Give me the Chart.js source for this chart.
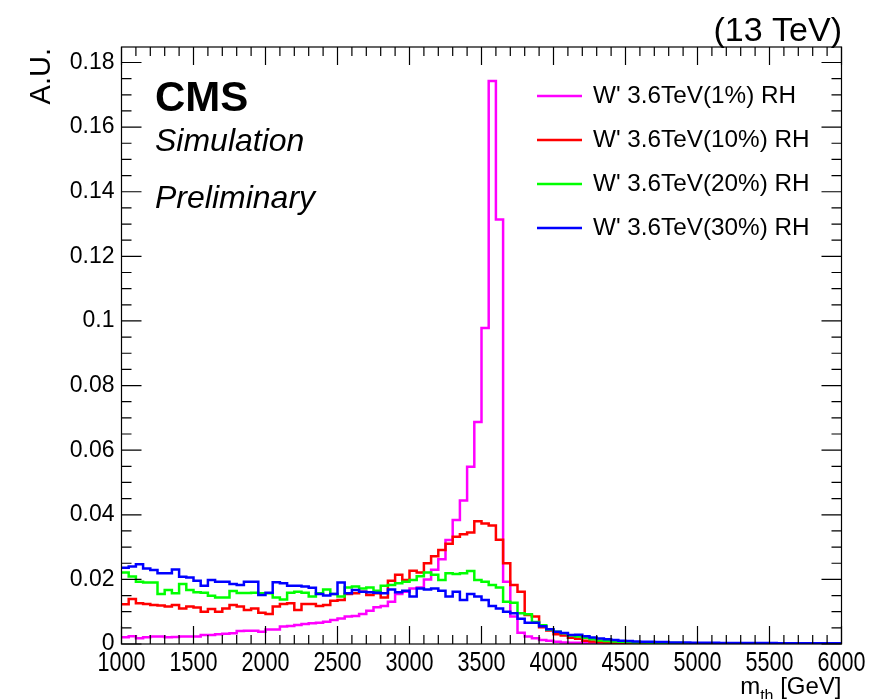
<!DOCTYPE html>
<html>
<head>
<meta charset="utf-8">
<script src="https://cdn.jsdelivr.net/npm/chart.js@4.4.1/dist/chart.umd.min.js"></script>
<style>
  html, body { margin: 0; padding: 0; background: #fff; }
  #c { display: block; }
</style>
</head>
<body>
<canvas id="c" width="870" height="699"></canvas>
<script>
// binning: 100 bins of 50 GeV from 1000 to 6000
const BIN_START = 1000;
const BIN_WIDTH = 50;
const X_MIN = 1000, X_MAX = 6000;
const Y_MIN = 0, Y_MAX = 0.1848;
const X_TICKS = [1000, 1500, 2000, 2500, 3000, 3500, 4000, 4500, 5000, 5500, 6000];
const Y_TICKS = [0, 0.02, 0.04, 0.06, 0.08, 0.1, 0.12, 0.14, 0.16, 0.18];

const LABELS = ["W' 3.6TeV(1%) RH", "W' 3.6TeV(10%) RH", "W' 3.6TeV(20%) RH", "W' 3.6TeV(30%) RH"];
const COLORS = ['#ff00ff', '#ff0000', '#00ff00', '#0000ff'];

// bin contents (A.U.)
const w1 = [
  0.0021, 0.0024, 0.0018, 0.0021, 0.0023, 0.0023, 0.0021, 0.0022, 0.0023, 0.0023,
  0.0023, 0.0028, 0.0028, 0.0030, 0.0032, 0.0033, 0.0040, 0.0041, 0.0041, 0.0038,
  0.0045, 0.0045, 0.0054, 0.0056, 0.0059, 0.0062, 0.0064, 0.0066, 0.0069, 0.0074,
  0.0079, 0.0085, 0.0087, 0.0093, 0.0103, 0.0114, 0.0118, 0.0131, 0.0155, 0.0162,
  0.0172, 0.0175, 0.0200, 0.0230, 0.0262, 0.0322, 0.0384, 0.0444, 0.0549, 0.0687,
  0.0978, 0.1743, 0.1314, 0.0193, 0.0085, 0.0035, 0.0023, 0.0018, 0.0012, 0.0010,
  0.0007, 0.0005, 0.0004, 0.0004, 0.0003, 0.0003, 0.0002, 0.0002, 0.0002, 0.0001,
  0.0001, 0.0001, 0.0001, 0.0001, 0.0001, 0.0001, 0.0001, 0.0001, 0.0001, 0.0001,
  0.0001, 0.0001, 0.0001, 0.0001, 0.0001, 0.0001, 0.0001, 0.0001, 0.0001, 0.0001,
  0.0001, 0.0001, 0.0001, 0.0001, 0.0001, 0.0001, 0.0001, 0.0001, 0.0001, 0.0001
];
const w10 = [
  0.0123, 0.0139, 0.0126, 0.0124, 0.0121, 0.0119, 0.0116, 0.0121, 0.0110, 0.0116,
  0.0113, 0.0100, 0.0108, 0.0100, 0.0110, 0.0121, 0.0116, 0.0105, 0.0110, 0.0097,
  0.0093, 0.0116, 0.0124, 0.0126, 0.0105, 0.0124, 0.0124, 0.0118, 0.0121, 0.0134,
  0.0136, 0.0155, 0.0157, 0.0162, 0.0152, 0.0157, 0.0144, 0.0196, 0.0214, 0.0198,
  0.0227, 0.0221, 0.0250, 0.0272, 0.0291, 0.0310, 0.0332, 0.0340, 0.0345, 0.0380,
  0.0373, 0.0367, 0.0323, 0.0250, 0.0183, 0.0162, 0.0090, 0.0085, 0.0052, 0.0042,
  0.0030, 0.0026, 0.0019, 0.0016, 0.0010, 0.0008, 0.0006, 0.0005, 0.0004, 0.0003,
  0.0003, 0.0002, 0.0002, 0.0002, 0.0001, 0.0001, 0.0001, 0.0001, 0.0001, 0.0001,
  0.0001, 0.0001, 0.0001, 0.0001, 0.0001, 0.0001, 0.0001, 0.0001, 0.0001, 0.0001,
  0.0001, 0.0001, 0.0001, 0.0001, 0.0001, 0.0001, 0.0001, 0.0001, 0.0001, 0.0001
];
const w20 = [
  0.0221, 0.0209, 0.0193, 0.0190, 0.0190, 0.0155, 0.0167, 0.0157, 0.0186, 0.0167,
  0.0160, 0.0159, 0.0149, 0.0144, 0.0144, 0.0164, 0.0158, 0.0158, 0.0159, 0.0157,
  0.0157, 0.0144, 0.0138, 0.0159, 0.0162, 0.0159, 0.0147, 0.0157, 0.0169, 0.0155,
  0.0147, 0.0175, 0.0178, 0.0172, 0.0175, 0.0165, 0.0180, 0.0183, 0.0188, 0.0193,
  0.0198, 0.0210, 0.0221, 0.0214, 0.0198, 0.0219, 0.0217, 0.0219, 0.0226, 0.0198,
  0.0193, 0.0183, 0.0175, 0.0131, 0.0128, 0.0095, 0.0092, 0.0068, 0.0058, 0.0044,
  0.0038, 0.0033, 0.0026, 0.0023, 0.0019, 0.0015, 0.0011, 0.0009, 0.0008, 0.0007,
  0.0006, 0.0005, 0.0005, 0.0004, 0.0004, 0.0003, 0.0003, 0.0003, 0.0002, 0.0002,
  0.0002, 0.0002, 0.0002, 0.0002, 0.0001, 0.0001, 0.0001, 0.0001, 0.0001, 0.0001,
  0.0001, 0.0001, 0.0001, 0.0001, 0.0001, 0.0001, 0.0001, 0.0001, 0.0001, 0.0001
];
const w30 = [
  0.0236, 0.0240, 0.0247, 0.0234, 0.0229, 0.0219, 0.0219, 0.0231, 0.0208, 0.0206,
  0.0196, 0.0180, 0.0198, 0.0193, 0.0193, 0.0186, 0.0183, 0.0193, 0.0193, 0.0152,
  0.0159, 0.0191, 0.0188, 0.0180, 0.0180, 0.0178, 0.0174, 0.0155, 0.0150, 0.0155,
  0.0190, 0.0157, 0.0167, 0.0162, 0.0160, 0.0159, 0.0157, 0.0169, 0.0160, 0.0165,
  0.0147, 0.0172, 0.0169, 0.0172, 0.0165, 0.0147, 0.0162, 0.0136, 0.0155, 0.0147,
  0.0136, 0.0118, 0.0110, 0.0100, 0.0095, 0.0078, 0.0066, 0.0066, 0.0055, 0.0046,
  0.0038, 0.0034, 0.0028, 0.0029, 0.0024, 0.0020, 0.0017, 0.0015, 0.0012, 0.0010,
  0.0009, 0.0008, 0.0007, 0.0007, 0.0006, 0.0006, 0.0005, 0.0005, 0.0005, 0.0004,
  0.0004, 0.0004, 0.0004, 0.0003, 0.0003, 0.0003, 0.0003, 0.0003, 0.0003, 0.0003,
  0.0003, 0.0002, 0.0002, 0.0002, 0.0002, 0.0002, 0.0002, 0.0002, 0.0002, 0.0002
];
const SERIES = [w1, w10, w20, w30];

// histogram -> step points at the low edge of each bin, plus closing point
function toSteps(vals) {
  const pts = vals.map((v, i) => ({ x: BIN_START + i * BIN_WIDTH, y: v }));
  pts.push({ x: BIN_START + vals.length * BIN_WIDTH, y: vals[vals.length - 1] });
  return pts;
}

const FONT = '"Liberation Sans", Arial, Helvetica, sans-serif';

// frame, inward ticks, x labels, texts and legend (ROOT style)
const rootStyle = {
  id: 'rootStyle',
  afterDraw(chart) {
    const ctx = chart.ctx;
    const a = chart.chartArea;
    const xs = chart.scales.x, ys = chart.scales.y;
    ctx.save();
    ctx.strokeStyle = '#000';
    ctx.lineWidth = 1.2;
    ctx.strokeRect(a.left, a.top, a.right - a.left, a.bottom - a.top);

    ctx.beginPath();
    for (let v = X_MIN; v <= X_MAX + 1e-6; v += 100) {
      const px = xs.getPixelForValue(v);
      const len = (v % 500 === 0) ? 18 : 9;
      ctx.moveTo(px, a.bottom); ctx.lineTo(px, a.bottom - len);
      ctx.moveTo(px, a.top); ctx.lineTo(px, a.top + len);
    }
    for (let i = 0; i * 0.005 <= Y_MAX + 1e-9; i++) {
      const py = ys.getPixelForValue(i * 0.005);
      const len = (i % 4 === 0) ? 20 : 10;
      ctx.moveTo(a.left, py); ctx.lineTo(a.left + len, py);
      ctx.moveTo(a.right, py); ctx.lineTo(a.right - len, py);
    }
    ctx.stroke();

    ctx.fillStyle = '#000';
    // x tick labels: ROOT draws them narrow and tall
    ctx.font = '27px ' + FONT;
    ctx.textBaseline = 'top';
    ctx.textAlign = 'center';
    X_TICKS.forEach(v => {
      ctx.save();
      ctx.translate(xs.getPixelForValue(v), a.bottom + 6);
      ctx.scale(0.8, 1);
      ctx.fillText(String(v), 0, 0);
      ctx.restore();
    });

    ctx.textBaseline = 'alphabetic';
    ctx.textAlign = 'right';
    ctx.font = '34px ' + FONT;
    ctx.fillText('(13 TeV)', 842, 41);

    ctx.textAlign = 'left';
    ctx.font = 'bold 42px ' + FONT;
    ctx.fillText('CMS', 155, 111);
    ctx.font = 'italic 32px ' + FONT;
    ctx.fillText('Simulation', 155, 151);
    ctx.fillText('Preliminary', 155, 208);

    // axis titles
    ctx.save();
    ctx.translate(50, 48);
    ctx.rotate(-Math.PI / 2);
    ctx.textAlign = 'right';
    ctx.font = '29px ' + FONT;
    ctx.fillText('A.U.', 0, 0);
    ctx.restore();

    ctx.textAlign = 'right';
    ctx.font = '24px ' + FONT;
    const gev = ' [GeV]';
    const gw = ctx.measureText(gev).width;
    ctx.fillText(gev, a.right, 694);
    ctx.font = '16px ' + FONT;
    const tw = ctx.measureText('th').width;
    ctx.fillText('th', a.right - gw, 701);
    ctx.font = '24px ' + FONT;
    ctx.fillText('m', a.right - gw - tw, 694);

    // legend
    ctx.textAlign = 'left';
    ctx.textBaseline = 'middle';
    ctx.font = '24.3px ' + FONT;
    LABELS.forEach((lab, i) => {
      const y = 96 + i * 44;
      ctx.strokeStyle = COLORS[i];
      ctx.lineWidth = 2.5;
      ctx.beginPath();
      ctx.moveTo(537, y); ctx.lineTo(582, y);
      ctx.stroke();
      ctx.fillText(lab, 593, y);
    });
    ctx.restore();
  }
};

new Chart(document.getElementById('c'), {
  type: 'line',
  data: {
    datasets: SERIES.map((vals, i) => ({
      label: LABELS[i],
      data: toSteps(vals),
      borderColor: COLORS[i],
      borderWidth: 2.5,
      pointRadius: 0,
      stepped: true,
      fill: false,
      order: SERIES.length - i
    }))
  },
  options: {
    responsive: false,
    animation: false,
    layout: { padding: { top: 47, right: 28.5, left: 0, bottom: 0 } },
    plugins: { legend: { display: false }, tooltip: { enabled: false } },
    scales: {
      x: {
        type: 'linear',
        min: X_MIN, max: X_MAX,
        afterFit(s) { s.height = 55; s.paddingLeft = 0; s.paddingRight = 0; },
        afterBuildTicks(s) { s.ticks = X_TICKS.map(v => ({ value: v })); },
        grid: { display: false, drawTicks: false },
        border: { display: false },
        ticks: { display: false }
      },
      y: {
        type: 'linear',
        min: Y_MIN, max: Y_MAX,
        afterFit(s) { s.width = 121.5; },
        afterBuildTicks(s) { s.ticks = Y_TICKS.map(v => ({ value: v })); },
        grid: { display: false, drawTicks: false },
        border: { display: false },
        ticks: {
          padding: 7,
          color: '#000', font: { family: FONT, size: 23 },
          callback: v => String(parseFloat(v.toFixed(3)))
        }
      }
    }
  },
  plugins: [rootStyle]
});
</script>
</body>
</html>
